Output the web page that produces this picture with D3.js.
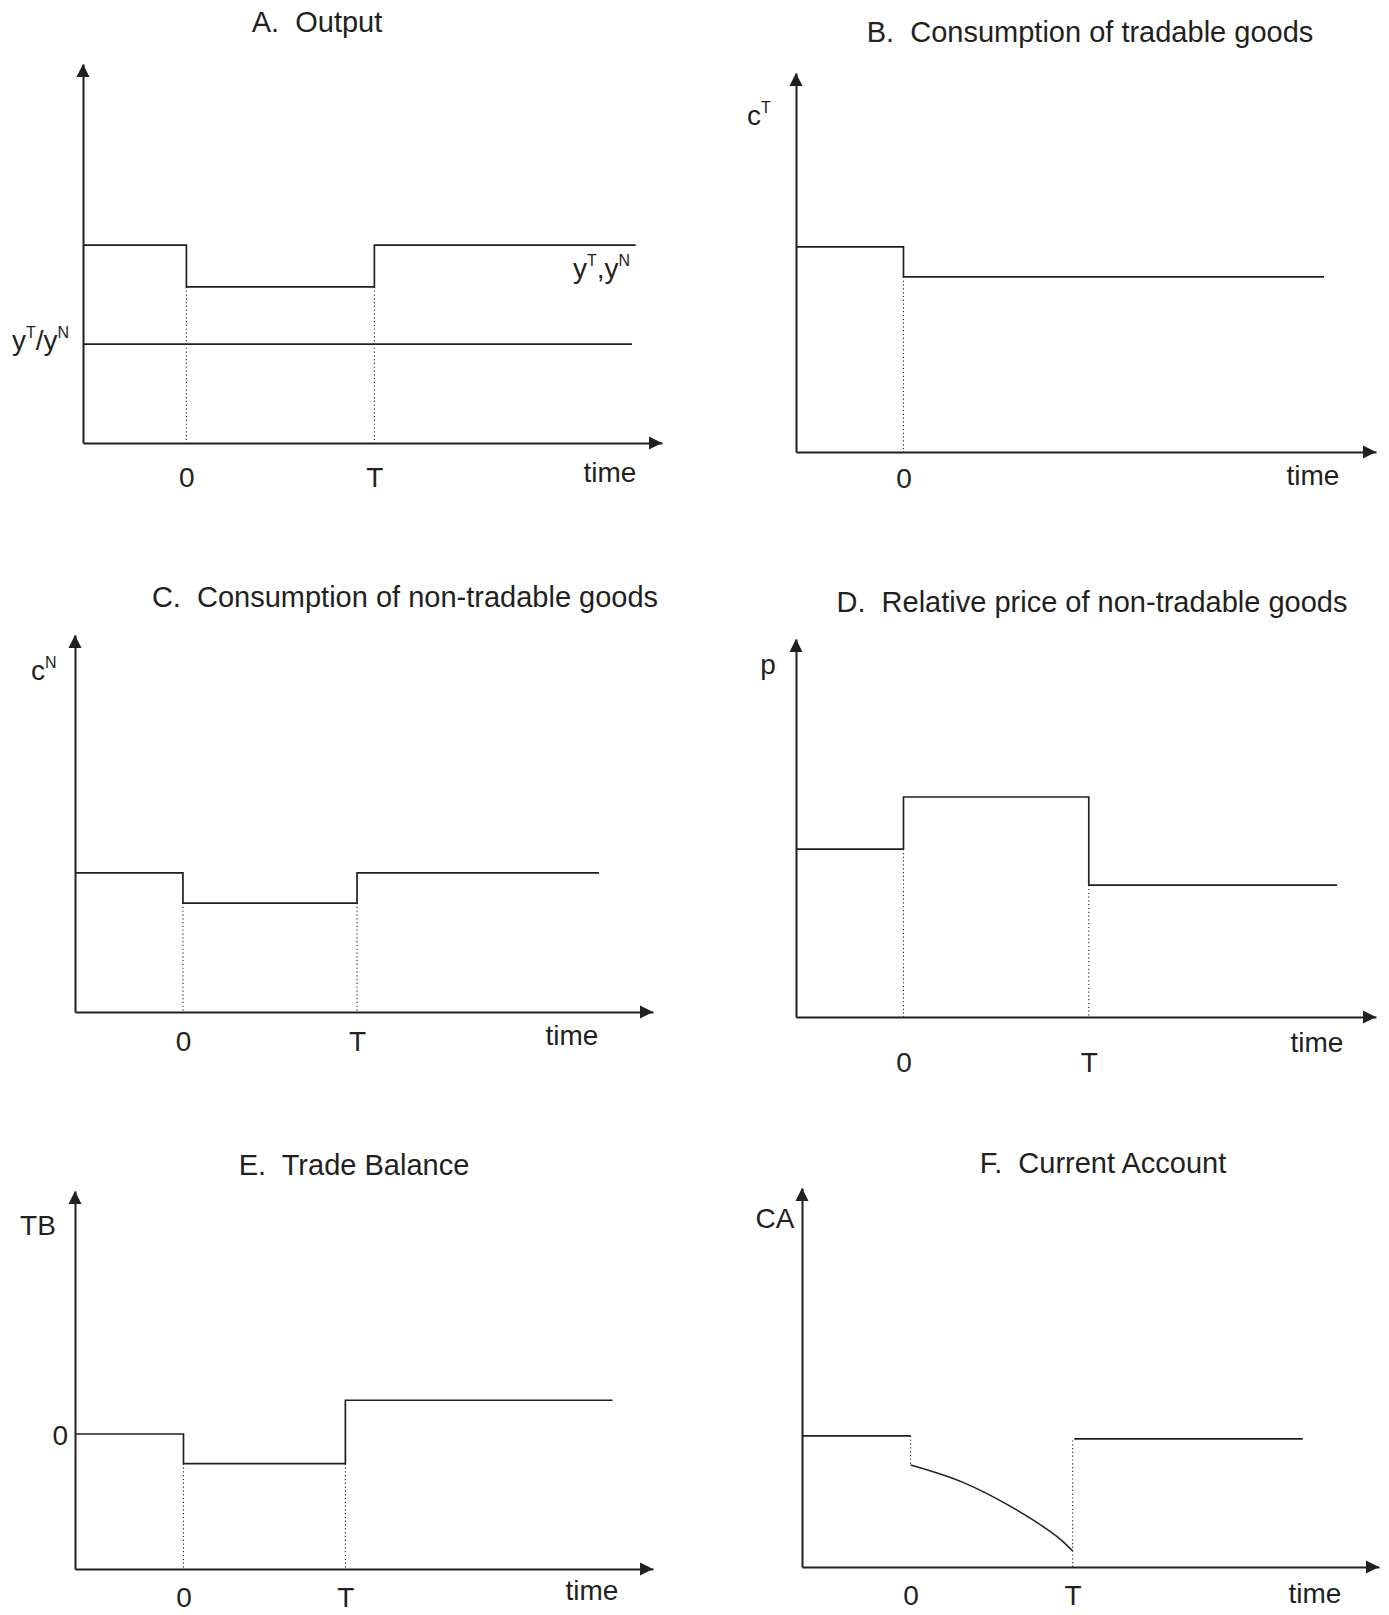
<!DOCTYPE html>
<html>
<head>
<meta charset="utf-8">
<script src="https://cdn.jsdelivr.net/npm/d3@7"></script>
<style>
  body { margin: 0; background: #fff; }
  svg { display: block; font-family: "Liberation Sans", Arial, Helvetica, sans-serif; }
  text { white-space: pre; }
</style>
</head>
<body>
<svg id="chart" width="1389" height="1615"></svg>
<script>
// time runs in units where the shock starts at t=0 and ends at t=T=1
// levels are read off the picture as a share of the y-axis height
const tickValues = [0, 1];
const tickLabels = ["0", "T"];

// [t, level] points, drawn as steps
const outputLevel = [[-0.55, 0.522], [0, 0.412], [1, 0.522], [2.39, 0.522]];
const outputRatio = [[-0.55, 0.261], [2.37, 0.261]];
const tradableCons = [[-0.58, 0.541], [0, 0.462], [2.27, 0.462]];
const nonTradableCons = [[-0.62, 0.369], [0, 0.289], [1, 0.369], [2.39, 0.369]];
const relPrice = [[-0.58, 0.444], [0, 0.582], [1, 0.349], [2.34, 0.349]];
const tradeBalance = [[-0.67, 0], [0, -0.22], [1, 0.25], [2.65, 0.25]];
const caBefore = [[-0.67, 0.346], [0, 0.346]];
const caDuring = [[0, 0.269], [0.33, 0.222], [0.6, 0.164], [0.82, 0.106], [0.93, 0.071], [1, 0.042]];
const caAfter = [[1.01, 0.338], [2.42, 0.338]];

// dotted guides: [t, from level, to level]
const outputGuides = [[0, 0.412, 0], [1, 0.412, 0]];
const tradableGuides = [[0, 0.462, 0]];
const nonTradableGuides = [[0, 0.289, 0], [1, 0.289, 0]];
const priceGuides = [[0, 0.444, 0], [1, 0.349, 0]];
const tbGuides = [[0, -0.22, -1], [1, -0.22, -1]];
const caGuides = [[0, 0.346, 0.269], [1, 0, 0.338]];

const ink = "#231f20";

const panels = [
  { title: "A.  Output", tx: 317, ty: 32,
    box: { left: 83, right: 662, top: 64, bottom: 443 }, xDom: [-0.55, 2.53], yDom: [0, 1],
    steps: [outputLevel, outputRatio], curves: [], guides: outputGuides, ticks: 2, tickY: 44,
    time: [610, 482],
    labels: [{ s: "y^T/y^N", x: 12, y: 350, anchor: "start" }, { s: "y^T,y^N", x: 573, y: 278, anchor: "start" }] },
  { title: "B.  Consumption of tradable goods", tx: 1090, ty: 42,
    box: { left: 796, right: 1376, top: 73, bottom: 452 }, xDom: [-0.58, 2.55], yDom: [0, 1],
    steps: [tradableCons], curves: [], guides: tradableGuides, ticks: 1, tickY: 36,
    time: [1313, 485],
    labels: [{ s: "c^T", x: 747, y: 125, anchor: "start" }] },
  { title: "C.  Consumption of non-tradable goods", tx: 405, ty: 607,
    box: { left: 75, right: 653, top: 635, bottom: 1012 }, xDom: [-0.62, 2.70], yDom: [0, 1],
    steps: [nonTradableCons], curves: [], guides: nonTradableGuides, ticks: 2, tickY: 39,
    time: [572, 1045],
    labels: [{ s: "c^N", x: 31, y: 680, anchor: "start" }] },
  { title: "D.  Relative price of non-tradable goods", tx: 1092, ty: 612,
    box: { left: 796, right: 1376, top: 639, bottom: 1017 }, xDom: [-0.58, 2.55], yDom: [0, 1],
    steps: [relPrice], curves: [], guides: priceGuides, ticks: 2, tickY: 55,
    time: [1317, 1052],
    labels: [{ s: "p", x: 768, y: 674, anchor: "middle" }] },
  { title: "E.  Trade Balance", tx: 354, ty: 1175,
    box: { left: 75, right: 653, top: 1191, bottom: 1569 }, xDom: [-0.67, 2.90], yDom: [-1, 1.8],
    steps: [tradeBalance], curves: [], guides: tbGuides, ticks: 2, tickY: 38,
    time: [592, 1600], yZero: true,
    labels: [{ s: "TB", x: 38, y: 1235, anchor: "middle" }] },
  { title: "F.  Current Account", tx: 1103, ty: 1173,
    box: { left: 802, right: 1379, top: 1188, bottom: 1567 }, xDom: [-0.67, 2.89], yDom: [0, 1],
    steps: [caBefore, caAfter], curves: [caDuring], guides: caGuides, ticks: 2, tickY: 38,
    time: [1315, 1603],
    labels: [{ s: "CA", x: 775, y: 1228, anchor: "middle" }] }
];

const svg = d3.select("#chart");

// text with ^X superscripts
function richText(sel, str) {
  let raised = false;
  str.split(/(\^[A-Z])/).filter(s => s).forEach(part => {
    if (part[0] === "^") {
      sel.append("tspan").attr("font-size", 16).attr("dy", raised ? 0 : -12).text(part.slice(1));
      raised = true;
    } else {
      sel.append("tspan").attr("dy", raised ? 12 : 0).text(part);
      raised = false;
    }
  });
}

function drawPanel(p) {
  const b = p.box;
  const x = d3.scaleLinear().domain(p.xDom).range([b.left, b.right]);
  const y = d3.scaleLinear().domain(p.yDom).range([b.bottom, b.top]);
  const g = svg.append("g");

  g.append("text")
    .attr("x", p.tx).attr("y", p.ty)
    .attr("text-anchor", "middle")
    .attr("font-size", 29)
    .attr("fill", ink)
    .text(p.title);

  // x axis, with 0 and T as the only ticks
  const xAxis = g.append("g")
    .attr("transform", `translate(0,${y(p.yDom[0])})`)
    .call(d3.axisBottom(x)
      .tickValues(tickValues.slice(0, p.ticks))
      .tickFormat((d, i) => tickLabels[i])
      .tickSize(0).tickSizeOuter(0));
  xAxis.select(".domain").attr("stroke", ink).attr("stroke-width", 2);
  xAxis.selectAll("text")
    .attr("dy", null).attr("y", p.tickY)
    .attr("font-size", 28).attr("font-family", null).attr("fill", ink);

  const yAxis = g.append("g")
    .attr("transform", `translate(${x(p.xDom[0])},0)`)
    .call(d3.axisLeft(y)
      .tickValues(p.yZero ? [0] : [])
      .tickFormat(d3.format("d"))
      .tickSize(0).tickSizeOuter(0).tickPadding(7));
  yAxis.select(".domain").attr("stroke", ink).attr("stroke-width", 2);
  yAxis.selectAll("text")
    .attr("dy", "0.36em")
    .attr("font-size", 28).attr("font-family", null).attr("fill", ink);

  // arrow heads at the ends of both axes
  const x1 = x(p.xDom[1]), y0 = y(p.yDom[0]);
  const xa = x(p.xDom[0]), ya = y(p.yDom[1]);
  g.append("path")
    .attr("d", `M${x1},${y0}L${x1 - 13},${y0 - 6.5}L${x1 - 13},${y0 + 6.5}Z`)
    .attr("fill", ink);
  g.append("path")
    .attr("d", `M${xa},${ya}L${xa - 6.5},${ya + 13}L${xa + 6.5},${ya + 13}Z`)
    .attr("fill", ink);

  // dotted guides
  g.selectAll(".guide")
    .data(p.guides)
    .join("line")
    .attr("x1", d => x(d[0])).attr("x2", d => x(d[0]))
    .attr("y1", d => y(d[1])).attr("y2", d => y(d[2]))
    .attr("stroke", ink)
    .attr("stroke-width", 1.1)
    .attr("stroke-dasharray", "1.2,2.6");

  const step = d3.line().x(d => x(d[0])).y(d => y(d[1])).curve(d3.curveStepAfter);
  const smooth = d3.line().x(d => x(d[0])).y(d => y(d[1])).curve(d3.curveMonotoneX);

  g.selectAll(".step")
    .data(p.steps)
    .join("path")
    .attr("d", step)
    .attr("fill", "none")
    .attr("stroke", ink)
    .attr("stroke-width", 1.7);

  g.selectAll(".curve")
    .data(p.curves)
    .join("path")
    .attr("d", smooth)
    .attr("fill", "none")
    .attr("stroke", ink)
    .attr("stroke-width", 1.5);

  g.append("text")
    .attr("x", p.time[0]).attr("y", p.time[1])
    .attr("text-anchor", "middle")
    .attr("font-size", 28)
    .attr("fill", ink)
    .text("time");

  p.labels.forEach(l => {
    const t = g.append("text")
      .attr("x", l.x).attr("y", l.y)
      .attr("text-anchor", l.anchor)
      .attr("font-size", 28)
      .attr("fill", ink);
    richText(t, l.s);
  });
}

panels.forEach(drawPanel);
</script>
</body>
</html>
